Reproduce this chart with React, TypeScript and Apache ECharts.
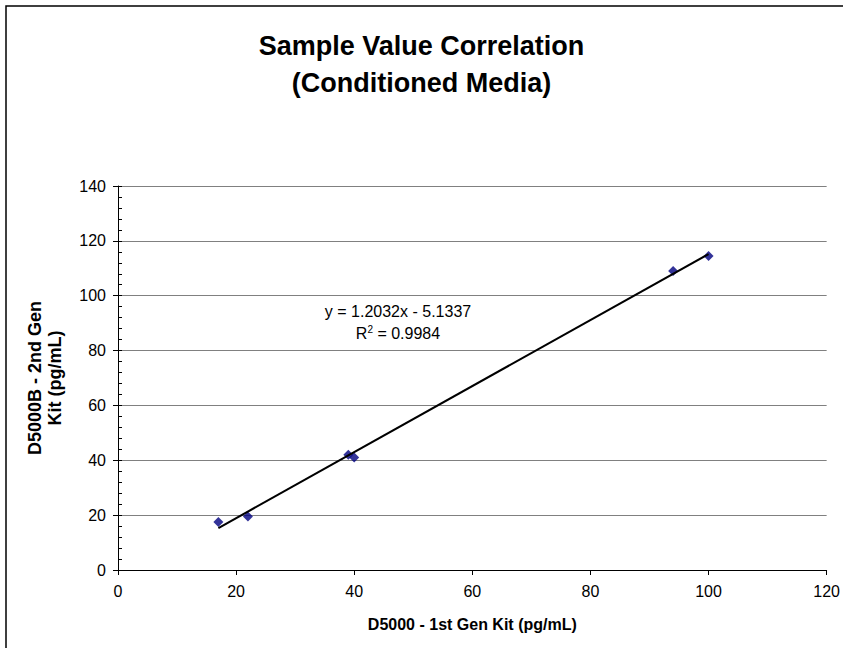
import React, { useEffect, useRef } from "react";
import * as echarts from "echarts";

const xValues = [17, 22, 39, 40, 94, 100];
const yValues = [17.5, 19.5, 42, 41, 109, 114.5];
const trendX = [17, 100];
const trendY = [15.3, 115.2];
const xTicks = [0, 20, 40, 60, 80, 100, 120];
const yTicks = [0, 20, 40, 60, 80, 100, 120, 140];
const titleLines = ["Sample Value Correlation", "(Conditioned Media)"];
const xName = "D5000 - 1st Gen Kit (pg/mL)";
const yNameLines = ["D5000B - 2nd Gen", "Kit (pg/mL)"];
const equation = "y = 1.2032x - 5.1337";
const rSquared = "0.9984";

const FONT = "'Liberation Sans', Arial, sans-serif";

export default function App() {
  const ref = useRef<HTMLDivElement>(null);
  useEffect(() => {
    if (!ref.current) return;
    const chart = echarts.init(ref.current, null, { renderer: "svg" });
    const left = 118, right = 828, top = 186, bottom = 570;
    chart.setOption({
      animation: false,
      backgroundColor: "#ffffff",
      textStyle: { fontFamily: FONT },
      title: {
        text: titleLines.join("\n"),
        left: "center",
        top: 22,
        textStyle: { fontFamily: FONT, fontSize: 27, fontWeight: "bold", color: "#000", lineHeight: 37 },
      },
      grid: { left, right: 843 - right, top, bottom: 648 - bottom, containLabel: false },
      xAxis: [
        {
          type: "value",
          min: xTicks[0],
          max: xTicks[xTicks.length - 1],
          interval: 20,
          axisLine: { show: true, onZero: false, lineStyle: { color: "#000", width: 1 } },
          axisTick: { show: true, length: 5, lineStyle: { color: "#000" } },
          axisLabel: { fontFamily: FONT, fontSize: 16, color: "#000", margin: 13 },
          splitLine: { show: false },
          name: xName,
          nameLocation: "middle",
          nameGap: 46,
          nameTextStyle: { fontFamily: FONT, fontSize: 16, fontWeight: "bold", color: "#000" },
        },
      ],
      yAxis: [
        {
          type: "value",
          min: yTicks[0],
          max: yTicks[yTicks.length - 1],
          interval: 20,
          axisLine: { show: true, onZero: false, lineStyle: { color: "#000", width: 1 } },
          axisTick: { show: true, length: 5, lineStyle: { color: "#000" } },
          axisLabel: { fontFamily: FONT, fontSize: 16, color: "#000", margin: 12 },
          splitLine: { show: true, lineStyle: { color: "#808080", width: 1 } },
          name: yNameLines.join("\n"),
          nameLocation: "middle",
          nameGap: 53,
          nameTextStyle: { fontFamily: FONT, fontSize: 18, fontWeight: "bold", color: "#000", lineHeight: 20 },
        },
        {
          type: "value",
          position: "left",
          min: 0,
          max: 140,
          interval: 4,
          axisLine: { show: false },
          axisTick: { show: true, inside: true, length: 4, lineStyle: { color: "#000" } },
          axisLabel: { show: false },
          splitLine: { show: false },
        },
      ],
      series: [
        {
          type: "scatter",
          symbol: "diamond",
          symbolSize: 10,
          itemStyle: { color: "#000080" },
          data: xValues.map((x, i) => [x, yValues[i]]),
          z: 3,
        },
        {
          type: "line",
          symbol: "none",
          lineStyle: { color: "#000", width: 2 },
          data: trendX.map((x, i) => [x, trendY[i]]),
          z: 4,
        },
      ],
      graphic: [
        {
          type: "rect",
          shape: { x: 6, y: 6, width: 900, height: 700 },
          style: { fill: "none", stroke: "#000", lineWidth: 1.5 },
          silent: true,
        },
        {
          type: "text",
          x: 398,
          y: 311,
          style: {
            text: equation,
            font: `16px ${FONT}`,
            fill: "#000",
            align: "center",
            verticalAlign: "middle",
          },
        },
        {
          type: "text",
          x: 398,
          y: 333,
          style: {
            text: "{a|R}{s|2}{a| = " + rSquared + "}",
            align: "center",
            verticalAlign: "middle",
            rich: {
              a: { fontFamily: FONT, fontSize: 16, color: "#000" },
              s: { fontFamily: FONT, fontSize: 10, color: "#000", verticalAlign: "top", padding: [0, 0, 8, 0] },
            },
          },
        },
      ],
    });
    return () => chart.dispose();
  }, []);
  return (
    <div
      ref={ref}
      style={{ position: "fixed", left: 0, top: 0, width: 843, height: 648 }}
    />
  );
}
